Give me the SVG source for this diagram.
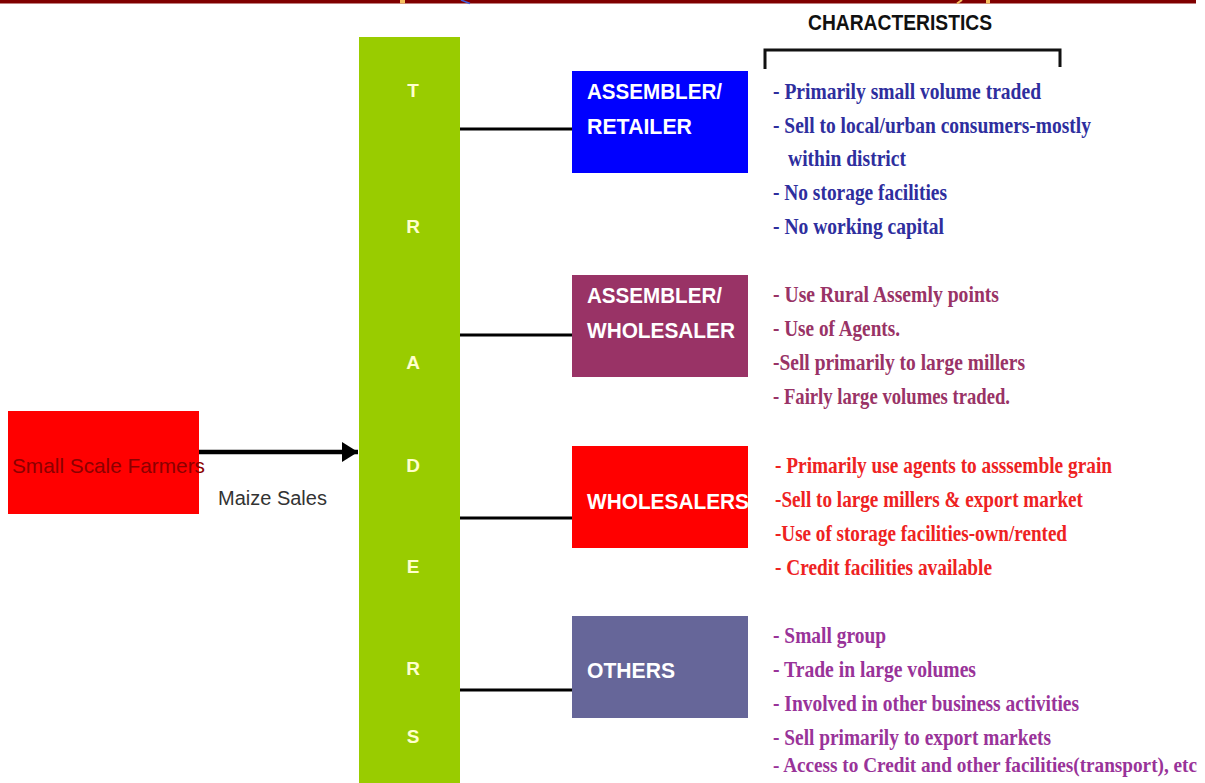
<svg xmlns="http://www.w3.org/2000/svg" width="1205" height="783" viewBox="0 0 1205 783">
<defs>
<marker id="arr" markerWidth="16" markerHeight="20" refX="16" refY="10" orient="auto" markerUnits="userSpaceOnUse">
<path d="M0,0 L16,10 L0,20 Z" fill="#000"/>
</marker>
<style>
.box-label{font-family:"Liberation Sans",Arial,sans-serif;font-weight:bold;font-size:22px;fill:#ffffff}
.letter{font-family:"Liberation Sans",Arial,sans-serif;font-weight:bold;font-size:19px;fill:#ffffcc;text-anchor:middle}
.ch{font-family:"Liberation Serif","Times New Roman",serif;font-weight:bold;font-size:23px}
.c1{fill:#2e2e9e}
.c2{fill:#993366}
.c3{fill:#ee2222}
.c4{fill:#993399}
.conn{stroke:#000;stroke-width:3;fill:none}
</style>
</defs>
<rect x="0" y="0" width="1205" height="783" fill="#ffffff"/>
<rect x="0" y="0" width="1196" height="3.5" fill="#800000"/>
<rect x="400" y="0" width="5" height="3.5" fill="#f5c060"/>
<line x1="461" y1="0" x2="470" y2="3.5" stroke="#4060e0" stroke-width="1.5"/>
<line x1="957" y1="3.5" x2="962" y2="0" stroke="#f5c060" stroke-width="2"/>
<rect x="986" y="0" width="4" height="3.5" fill="#f5c060"/>

<g id="header">
<text x="900" y="30" text-anchor="middle" textLength="184" lengthAdjust="spacingAndGlyphs" style="font-family:'Liberation Sans',Arial,sans-serif;font-weight:bold;font-size:22px;fill:#111">CHARACTERISTICS</text>
<path d="M765,69 V50 H1060 V67" stroke="#111" stroke-width="3" fill="none"/>
</g>

<g id="farmers">
<rect x="8" y="411" width="191" height="103" fill="#ff0000"/>
<text x="12" y="473" textLength="193" lengthAdjust="spacingAndGlyphs" style="font-family:'Liberation Sans',Arial,sans-serif;font-size:21px;fill:#8b0000">Small Scale Farmers</text>
</g>

<g id="traders">
<rect x="359" y="37" width="101" height="746" fill="#99cc00"/>
<text class="letter" x="413" y="97">T</text>
<text class="letter" x="413" y="233">R</text>
<text class="letter" x="413" y="369">A</text>
<text class="letter" x="413" y="472">D</text>
<text class="letter" x="413" y="573">E</text>
<text class="letter" x="413" y="675">R</text>
<text class="letter" x="413" y="743">S</text>
</g>

<g id="connectors">
<line x1="199" y1="452" x2="358" y2="452" stroke="#000" stroke-width="4.5" marker-end="url(#arr)"/>
<text x="218" y="505" style="font-family:'Liberation Sans',Arial,sans-serif;font-size:20px;fill:#333">Maize Sales</text>
<line class="conn" x1="460" y1="129" x2="572" y2="129"/>
<line class="conn" x1="460" y1="335" x2="572" y2="335"/>
<line class="conn" x1="460" y1="518" x2="572" y2="518"/>
<line class="conn" x1="460" y1="690" x2="572" y2="690"/>
</g>

<g id="assembler-retailer">
<rect x="572" y="71" width="176" height="102" fill="#0000ff"/>
<text class="box-label" x="587" y="99" textLength="135" lengthAdjust="spacingAndGlyphs">ASSEMBLER/</text>
<text class="box-label" x="587" y="134" textLength="105" lengthAdjust="spacingAndGlyphs">RETAILER</text>
</g>
<g id="assembler-retailer-chars" class="ch c1">
<text x="773" y="99" textLength="268" lengthAdjust="spacingAndGlyphs">- Primarily small volume traded</text>
<text x="773" y="133" textLength="318" lengthAdjust="spacingAndGlyphs">- Sell to local/urban consumers-mostly</text>
<text x="788" y="166" textLength="118" lengthAdjust="spacingAndGlyphs">within district</text>
<text x="773" y="200" textLength="174" lengthAdjust="spacingAndGlyphs">- No storage facilities</text>
<text x="773" y="234" textLength="171" lengthAdjust="spacingAndGlyphs">- No working capital</text>
</g>

<g id="assembler-wholesaler">
<rect x="572" y="275" width="176" height="102" fill="#993366"/>
<text class="box-label" x="587" y="303" textLength="135" lengthAdjust="spacingAndGlyphs">ASSEMBLER/</text>
<text class="box-label" x="587" y="338" textLength="148" lengthAdjust="spacingAndGlyphs">WHOLESALER</text>
</g>
<g id="assembler-wholesaler-chars" class="ch c2">
<text x="773" y="302" textLength="226" lengthAdjust="spacingAndGlyphs">- Use Rural Assemly points</text>
<text x="773" y="336" textLength="127" lengthAdjust="spacingAndGlyphs">- Use of Agents.</text>
<text x="773" y="370" textLength="252" lengthAdjust="spacingAndGlyphs">-Sell primarily to large millers</text>
<text x="773" y="404" textLength="237" lengthAdjust="spacingAndGlyphs">- Fairly large volumes traded.</text>
</g>

<g id="wholesalers">
<rect x="572" y="446" width="176" height="102" fill="#ff0000"/>
<text class="box-label" x="587" y="509" textLength="162" lengthAdjust="spacingAndGlyphs">WHOLESALERS</text>
</g>
<g id="wholesalers-chars" class="ch c3">
<text x="775" y="473" textLength="337" lengthAdjust="spacingAndGlyphs">- Primarily use agents to asssemble grain</text>
<text x="775" y="507" textLength="308" lengthAdjust="spacingAndGlyphs">-Sell to large millers &amp; export market</text>
<text x="775" y="541" textLength="292" lengthAdjust="spacingAndGlyphs">-Use of storage facilities-own/rented</text>
<text x="775" y="575" textLength="217" lengthAdjust="spacingAndGlyphs">- Credit facilities available</text>
</g>

<g id="others">
<rect x="572" y="616" width="176" height="102" fill="#666699"/>
<text class="box-label" x="587" y="678" textLength="88" lengthAdjust="spacingAndGlyphs">OTHERS</text>
</g>
<g id="others-chars" class="ch c4">
<text x="773" y="643" textLength="113" lengthAdjust="spacingAndGlyphs">- Small group</text>
<text x="773" y="677" textLength="203" lengthAdjust="spacingAndGlyphs">- Trade in large volumes</text>
<text x="773" y="711" textLength="306" lengthAdjust="spacingAndGlyphs">- Involved in other business activities</text>
<text x="773" y="745" textLength="278" lengthAdjust="spacingAndGlyphs">- Sell primarily to export markets</text>
<text x="773" y="772" textLength="424" lengthAdjust="spacingAndGlyphs" style="font-size:21px">- Access to Credit and other facilities(transport), etc</text>
</g>
</svg>
